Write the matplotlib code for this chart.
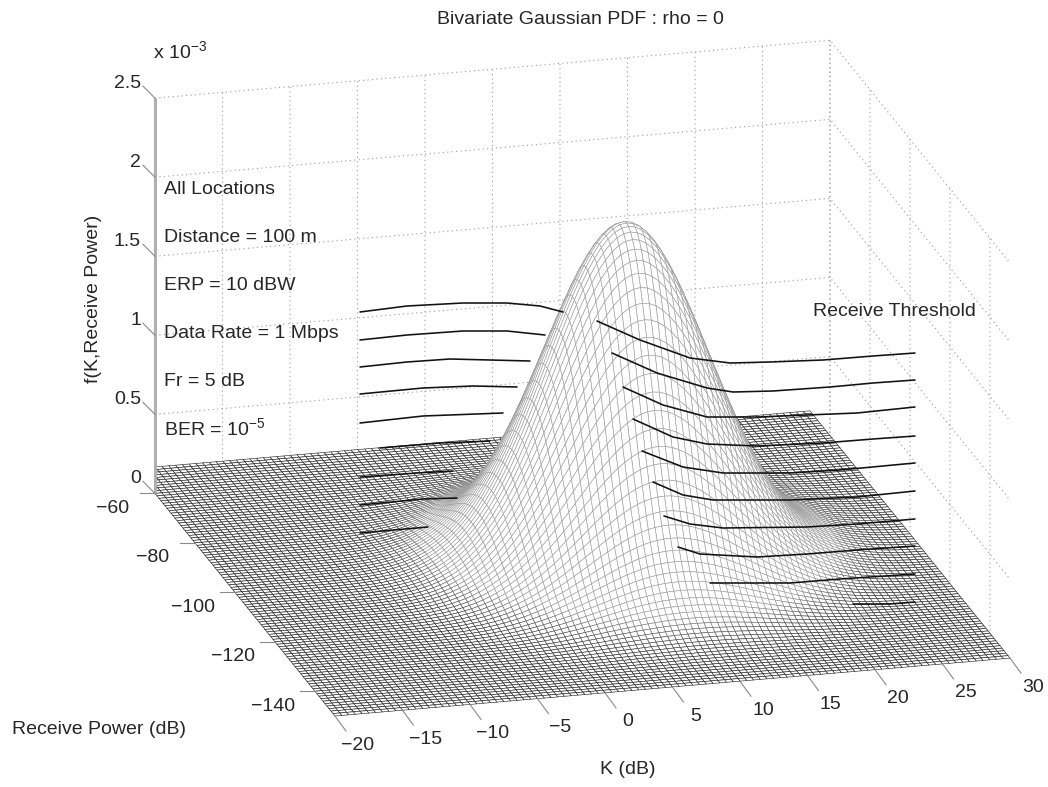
import numpy as np
import matplotlib
matplotlib.use("Agg")
import matplotlib.pyplot as plt
from matplotlib.patches import Rectangle
from matplotlib.transforms import IdentityTransform
from mpl_toolkits.mplot3d import proj3d

W, H = 1048, 787
plt.rcParams['font.family'] = ['Liberation Sans', 'DejaVu Sans']
plt.rcParams['mathtext.default'] = 'regular'

# Surface: bivariate Gaussian PDF (rho = 0) named by the chart's title; parameters
K_MEAN, K_SIGMA = 9.0, 5.9
P_MEAN, P_SIGMA = -100.0, 12.7
K_STEP, P_STEP = 0.5, 1.0
K_RANGE = (-20, 30)
P_MESH_RANGE = (-150, -50)
P_AXIS_RANGE = (-150, -60)
Z_RANGE = (0, 2.5e-3)

k_ticks = [-20, -15, -10, -5, 0, 5, 10, 15, 20, 25, 30]
p_ticks = [-140, -120, -100, -80, -60]
z_ticks = [0, 0.5e-3, 1e-3, 1.5e-3, 2e-3, 2.5e-3]
z_labels = ['0', '0.5', '1', '1.5', '2', '2.5']

# Receive-threshold traces (page pixels)
thresh_left = [
    [(360,312),(407,306),(463,303),(507,303),(540,306),(563,312)],
    [(360,340),(407,335),(463,331),(507,331),(545,335)],
    [(360,367),(407,362),(450,359),(530,361)],
    [(360,394),(423,388),(473,386),(517,387)],
    [(360,423),(423,416),(503,413)],
    [(380,448),(440,443),(490,441)],
    [(360,477),(417,473),(453,471)],
    [(360,505),(423,499),(457,498)],
    [(360,533),(428,527)],
]
thresh_right = [
    [(597,321),(640,340),(690,358),(730,363),(770,362),(823,360),(873,356),(915,353)],
    [(612,353),(657,373),(707,388),(733,392),(773,391),(830,387),(873,383),(915,380)],
    [(623,387),(663,405),(707,417),(757,417),(807,415),(857,413),(915,407)],
    [(633,419),(673,437),(707,444),(757,446),(823,443),(873,439),(915,436)],
    [(642,451),(683,467),(723,473),(790,473),(840,470),(915,463)],
    [(653,482),(683,495),(713,500),(790,500),(857,497),(915,491)],
    [(664,516),(690,524),(723,528),(807,527),(857,524),(915,519)],
    [(678,547),(700,554),(757,557),(807,554),(857,550),(915,546)],
    [(710,583),(790,583),(840,579),(915,574)],
    [(853,604),(890,604),(915,602)],
]
notes = [('All Locations', 190), ('Distance = 100 m', 238), ('ERP = 10 dBW', 285),
         ('Data Rate = 1 Mbps', 334), ('Fr = 5 dB', 381), ('BER = 10$^{-5}$', 428)]

k = np.arange(K_RANGE[0], K_RANGE[1] + K_STEP, K_STEP)
p = np.arange(P_MESH_RANGE[0], P_MESH_RANGE[1] + P_STEP, P_STEP)
K, P = np.meshgrid(k, p)
Z = np.exp(-0.5 * (((K - K_MEAN) / K_SIGMA) ** 2 + ((P - P_MEAN) / P_SIGMA) ** 2)) / (2 * np.pi * K_SIGMA * P_SIGMA)

fig = plt.figure(figsize=(W / 100, H / 100), dpi=100, facecolor='white')
ax = fig.add_axes([0, 0, 1, 1], projection='3d', proj_type='ortho')
ax.view_init(elev=19, azim=-104.75)
ax.set_xlim(*K_RANGE, view_margin=0)
ax.set_ylim(*P_AXIS_RANGE, view_margin=0)
ax.set_zlim(*Z_RANGE, view_margin=0)
ax.set_xticks(k_ticks)
ax.set_yticks(p_ticks)
ax.set_zticks(z_ticks)
ax.set_xticklabels([]); ax.set_yticklabels([]); ax.set_zticklabels([])
ax.patch.set_alpha(0)
for axis in (ax.xaxis, ax.yaxis, ax.zaxis):
    axis.set_pane_color((1, 1, 1, 1))
    axis.pane.set_edgecolor('white')
    axis.line.set_color((1, 1, 1, 0))
    axis._axinfo['grid'].update(color='#9a9a9a', linestyle=(0, (1, 3)), linewidth=0.8)
    axis._axinfo['tick'].update(inward_factor=0, outward_factor=0)
    axis.set_tick_params(length=0, color=(1, 1, 1, 0))

surf = ax.plot_surface(K, P, Z, rstride=1, cstride=1, color='white', shade=False,
                       edgecolor='#1c1c1c', linewidth=0.42, antialiased=True)
surf.set_clip_path(Rectangle((155, 0), W, H, transform=IdentityTransform()))

# Mesh ink fades as the surface lifts off the floor, as in the scanned original
cell_z = Z[:-1, :-1].ravel() / Z.max()
grey = 0.12 + 0.5 * np.minimum(cell_z / 0.05, 1.0)
surf.set_edgecolor(np.column_stack([grey, grey, grey, np.ones_like(grey)]))


def project(a, b, c):
    x2, y2, _ = proj3d.proj_transform(a, b, c, ax.get_proj())
    dx, dy = ax.transData.transform((x2, y2))
    return dx, H - dy


# Fit the box to the page: anchor corners
zoom = 1.3
aspect = (698.0, 707.0, 418.0)
ax.set_box_aspect(aspect, zoom=zoom)
pos = [0.0, 0.0, 1.0, 1.0]
for _ in range(3):
    fig.canvas.draw()
    x0, y0 = project(K_RANGE[0], P_AXIS_RANGE[0], 0)
    x1, y1 = project(K_RANGE[1], P_AXIS_RANGE[0], 0)
    zoom *= 675.0 / (x1 - x0)
    ax.set_box_aspect(aspect, zoom=zoom)
    fig.canvas.draw()
    x0, y0 = project(K_RANGE[0], P_AXIS_RANGE[0], 0)
    pos[0] += (335 - x0) / W
    pos[1] -= (716 - y0) / H
    ax.set_position(pos)
fig.canvas.draw()

ov = fig.add_axes([0, 0, 1, 1], facecolor='none')
ov.set_xlim(0, W)
ov.set_ylim(H, 0)
ov.axis('off')

TXT = '#262626'
FS = 14
TICK = '#8a8a8a'

# z axis line
xa, ya = project(K_RANGE[0], P_AXIS_RANGE[1], Z_RANGE[0])
xb, yb = project(K_RANGE[0], P_AXIS_RANGE[1], Z_RANGE[1])
ov.plot([xa, xb], [ya, yb], color='#b0b0b0', lw=2.2, solid_capstyle='butt')

for v, lab in zip(z_ticks, z_labels):
    x, y = project(K_RANGE[0], P_AXIS_RANGE[1], v)
    ov.plot([x, x - 12], [y, y - 12], color=TICK, lw=0.8)
    ov.text(x - 14, y - 15, lab, ha='right', va='center', fontsize=FS, color=TXT)
for v in p_ticks:
    x, y = project(K_RANGE[0], v, 0)
    ov.plot([x - 15, x], [y, y], color=TICK, lw=0.8)
    ov.text(x - 42, y + 15, '\u2212' + str(abs(v)), ha='center', va='center', fontsize=FS, color=TXT)
for v in k_ticks:
    x, y = project(v, P_AXIS_RANGE[0], 0)
    ov.plot([x, x + 11], [y, y + 15], color=TICK, lw=0.8)
    lab = str(v).replace('-', '\u2212')
    ov.text(x + 23, y + 29, lab, ha='center', va='center', fontsize=FS, color=TXT)

for line in thresh_left + thresh_right:
    xs, ys = zip(*line)
    ov.plot(xs, ys, color='#111111', lw=1.15, solid_capstyle='round', solid_joinstyle='round')

ov.text(580, 19, 'Bivariate Gaussian PDF : rho = 0', ha='center', va='center', fontsize=FS, color=TXT)
ov.text(153, 51, 'x 10$^{-3}$', ha='left', va='center', fontsize=FS, color=TXT)
for s, y in notes:
    ov.text(164, y, s, ha='left', va='center', fontsize=FS, color=TXT)
ov.text(813, 311, 'Receive Threshold', ha='left', va='center', fontsize=FS, color=TXT)
ov.text(93, 299, 'f(K,Receive Power)', rotation=90, ha='center', va='center', fontsize=FS, color=TXT)
ov.text(12, 730, 'Receive Power (dB)', ha='left', va='center', fontsize=FS, color=TXT)
ov.text(628, 769, 'K (dB)', ha='center', va='center', fontsize=FS, color=TXT)

fig.savefig('out.png', dpi=100, facecolor='white')
